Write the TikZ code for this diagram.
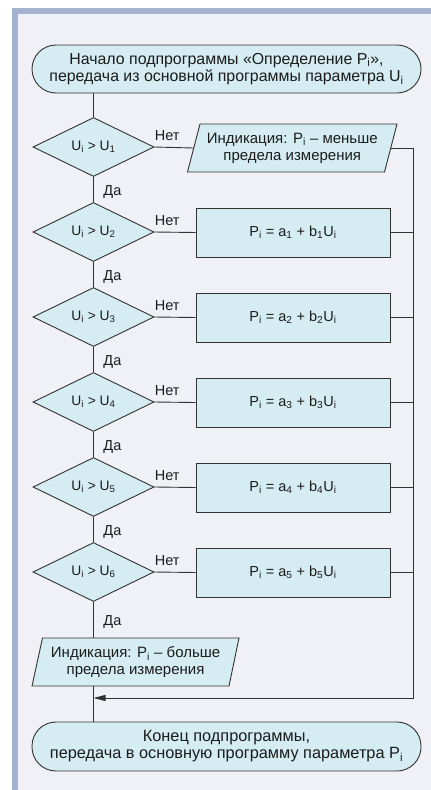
\documentclass[tikz,border=0pt]{standalone}
\usepackage{fontspec}
\setmainfont{Liberation Sans}
\usetikzlibrary{shapes.geometric,arrows.meta}
\definecolor{frameblue}{RGB}{166,179,208}
\definecolor{bgpale}{RGB}{240,241,247}
\definecolor{shapefill}{RGB}{213,236,242}
\definecolor{linegray}{RGB}{50,50,50}
\definecolor{textdark}{RGB}{28,28,28}
\newcommand{\sbs}[1]{\textsubscript{#1}}
\tikzset{
  shapeline/.style={draw=linegray, line width=0.9pt, fill=shapefill},
  base/.style={shapeline, text=textdark, align=center, inner sep=0pt,
    font=\fontsize{15}{17}\selectfont},
  term/.style={base, rectangle, rounded corners=24pt, minimum width=389pt, minimum height=48pt},
  cond/.style={base, diamond, minimum width=121pt, minimum height=59pt,
    font=\fontsize{13.8}{17}\selectfont},
  proc/.style={base, rectangle, minimum width=194pt, minimum height=49pt,
    font=\fontsize{14.5}{17}\selectfont},
  iotext/.style={base, draw=none, fill=none, rectangle, minimum width=197pt, minimum height=48pt},
  flow/.style={draw=linegray, line width=0.9pt},
  lbl/.style={font=\fontsize{14.5}{17}\selectfont, text=textdark, inner sep=0pt},
}
\begin{document}
\begin{tikzpicture}[x=1pt,y=-1pt]
\useasboundingbox (0,0) rectangle (431,790);
\fill[white] (0,0) rectangle (431,790);
\fill[frameblue] (12,8) rectangle (431,790);
\fill[bgpale] (18,14) rectangle (431,790);

\node[term, font=\fontsize{15.9}{17.5}\selectfont] (start) at (226.5,69) {Начало подпрограммы «Определение P\sbs{i}»,\\передача из основной программы параметра U\sbs{i}};

\node[cond] (d1) at (93.5,147) {U\sbs{i} > U\sbs{1}};
\node[cond] (d2) at (93.5,232) {U\sbs{i} > U\sbs{2}};
\node[cond] (d3) at (93.5,317) {U\sbs{i} > U\sbs{3}};
\node[cond] (d4) at (93.5,402) {U\sbs{i} > U\sbs{4}};
\node[cond] (d5) at (93.5,487) {U\sbs{i} > U\sbs{5}};
\node[cond] (d6) at (93.5,572) {U\sbs{i} > U\sbs{6}};

% parallelogram 1
\filldraw[shapeline, line join=miter] (200,124) -- (397,124) -- (384.5,172) -- (187.5,172) -- cycle;
\node[iotext] (p1) at (292.25,148) {Индикация: P\sbs{i} – меньше\\предела измерения};

\node[proc] (b1) at (293,232.5) {P\sbs{i} = a\sbs{1} + b\sbs{1}U\sbs{i}};
\node[proc] (b2) at (293,317.5) {P\sbs{i} = a\sbs{2} + b\sbs{2}U\sbs{i}};
\node[proc] (b3) at (293,402.5) {P\sbs{i} = a\sbs{3} + b\sbs{3}U\sbs{i}};
\node[proc] (b4) at (293,487.5) {P\sbs{i} = a\sbs{4} + b\sbs{4}U\sbs{i}};
\node[proc] (b5) at (293,572.5) {P\sbs{i} = a\sbs{5} + b\sbs{5}U\sbs{i}};

% parallelogram 2
\filldraw[shapeline, line join=miter] (42.5,638) -- (239,638) -- (229,686) -- (32,686) -- cycle;
\node[iotext] (p2) at (135.6,662) {Индикация: P\sbs{i} – больше\\предела измерения};

\node[term, minimum height=49pt, font=\fontsize{16.3}{17}\selectfont] (end) at (226.5,746.5) {Конец подпрограммы,\\передача в основную программу параметра P\sbs{i}};

\coordinate (rtop) at (413,148);
\coordinate (rbot) at (413,698);
\coordinate (join) at (93.5,698);

% main vertical
\draw[flow] (d1.north |- start.south) -- (d1.north);
\foreach \a/\b in {d1/d2,d2/d3,d3/d4,d4/d5,d5/d6}{
  \draw[flow] (\a.south) -- node[lbl, anchor=west, xshift=9.5pt, yshift=-2pt]{Да} (\b.north);
}
\draw[flow] (d6.south) -- node[lbl, anchor=west, xshift=9.5pt, yshift=-2pt]{Да} (d6.south |- p2.north);
\draw[flow] (d6.south |- p2.south) -- (d6.south |- end.north);

% no branches
\draw[flow] (d1.east) node[lbl, anchor=south west, yshift=5.5pt]{Нет} -- (p1.west);
\draw[flow] (d2.east) node[lbl, anchor=south west, yshift=5.5pt]{Нет} -- (b1.west);
\draw[flow] (d3.east) node[lbl, anchor=south west, yshift=5.5pt]{Нет} -- (b2.west);
\draw[flow] (d4.east) node[lbl, anchor=south west, yshift=5.5pt]{Нет} -- (b3.west);
\draw[flow] (d5.east) node[lbl, anchor=south west, yshift=5.5pt]{Нет} -- (b4.west);
\draw[flow] (d6.east) node[lbl, anchor=south west, yshift=5.5pt]{Нет} -- (b5.west);

% right collector
\draw[flow, -{Triangle[length=12pt,width=6pt]}] (p1.east) -- (rtop) -- (rbot) -- (join);
\foreach \b in {b1,b2,b3,b4,b5}{
  \draw[flow] (\b.east) -- (\b.east -| rtop);
}
\end{tikzpicture}
\end{document}
